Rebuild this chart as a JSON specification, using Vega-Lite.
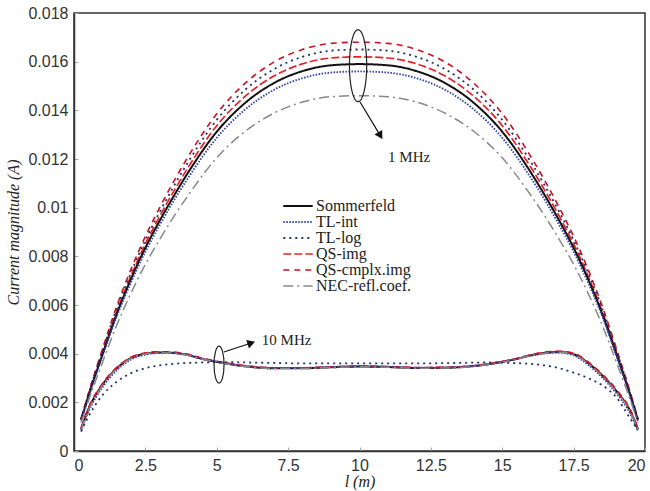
{
"$schema": "https://vega.github.io/schema/vega-lite/v6.json",
"width": 571, "height": 438,
"autosize": {"type": "none"},
"padding": {"left": 74, "top": 13, "right": 5, "bottom": 40},
"background": "white",
"config": {
  "view": {"stroke": "#333", "strokeWidth": 1.5},
  "axis": {"grid": false, "domainColor": "#333", "domainWidth": 1.5, "tickColor": "#aaa", "tickSize": -4, "labelPadding": 10, "labelFont": "Liberation Sans", "labelFontSize": 16, "labelColor": "#333", "titleFont": "Liberation Serif", "titleFontSize": 16, "titleFontWeight": "normal", "titleFontStyle": "italic", "titleColor": "#222"}
},
"datasets": {
"curves": [
{"s":"QS-cmplx.img","f":1,"x":0.25,"y":0.00134},{"s":"QS-cmplx.img","f":1,"x":0.5,"y":0.00235},{"s":"QS-cmplx.img","f":1,"x":1,"y":0.0042},{"s":"QS-cmplx.img","f":1,"x":1.5,"y":0.00596},{"s":"QS-cmplx.img","f":1,"x":2,"y":0.00748},{"s":"QS-cmplx.img","f":1,"x":2.5,"y":0.00882},{"s":"QS-cmplx.img","f":1,"x":3,"y":0.01},{"s":"QS-cmplx.img","f":1,"x":3.5,"y":0.01109},{"s":"QS-cmplx.img","f":1,"x":4,"y":0.0121},{"s":"QS-cmplx.img","f":1,"x":5,"y":0.01386},{"s":"QS-cmplx.img","f":1,"x":6,"y":0.01512},{"s":"QS-cmplx.img","f":1,"x":7,"y":0.01598},{"s":"QS-cmplx.img","f":1,"x":8,"y":0.0165},{"s":"QS-cmplx.img","f":1,"x":9,"y":0.01675},{"s":"QS-cmplx.img","f":1,"x":10,"y":0.0168},{"s":"QS-cmplx.img","f":1,"x":11,"y":0.01675},{"s":"QS-cmplx.img","f":1,"x":12,"y":0.0165},{"s":"QS-cmplx.img","f":1,"x":13,"y":0.01598},{"s":"QS-cmplx.img","f":1,"x":14,"y":0.01512},{"s":"QS-cmplx.img","f":1,"x":15,"y":0.01386},{"s":"QS-cmplx.img","f":1,"x":16,"y":0.0121},{"s":"QS-cmplx.img","f":1,"x":16.5,"y":0.01109},{"s":"QS-cmplx.img","f":1,"x":17,"y":0.01},{"s":"QS-cmplx.img","f":1,"x":17.5,"y":0.00882},{"s":"QS-cmplx.img","f":1,"x":18,"y":0.00748},{"s":"QS-cmplx.img","f":1,"x":18.5,"y":0.00596},{"s":"QS-cmplx.img","f":1,"x":19,"y":0.0042},{"s":"QS-cmplx.img","f":1,"x":19.5,"y":0.00235},{"s":"QS-cmplx.img","f":1,"x":19.75,"y":0.00134},
{"s":"TL-log","f":1,"x":0.25,"y":0.00132},{"s":"TL-log","f":1,"x":0.5,"y":0.00231},{"s":"TL-log","f":1,"x":1,"y":0.00413},{"s":"TL-log","f":1,"x":1.5,"y":0.00586},{"s":"TL-log","f":1,"x":2,"y":0.00734},{"s":"TL-log","f":1,"x":2.5,"y":0.00866},{"s":"TL-log","f":1,"x":3,"y":0.00982},{"s":"TL-log","f":1,"x":3.5,"y":0.01089},{"s":"TL-log","f":1,"x":4,"y":0.01188},{"s":"TL-log","f":1,"x":5,"y":0.01361},{"s":"TL-log","f":1,"x":6,"y":0.01485},{"s":"TL-log","f":1,"x":7,"y":0.01569},{"s":"TL-log","f":1,"x":8,"y":0.0162},{"s":"TL-log","f":1,"x":9,"y":0.01645},{"s":"TL-log","f":1,"x":10,"y":0.0165},{"s":"TL-log","f":1,"x":11,"y":0.01645},{"s":"TL-log","f":1,"x":12,"y":0.0162},{"s":"TL-log","f":1,"x":13,"y":0.01569},{"s":"TL-log","f":1,"x":14,"y":0.01485},{"s":"TL-log","f":1,"x":15,"y":0.01361},{"s":"TL-log","f":1,"x":16,"y":0.01188},{"s":"TL-log","f":1,"x":16.5,"y":0.01089},{"s":"TL-log","f":1,"x":17,"y":0.00982},{"s":"TL-log","f":1,"x":17.5,"y":0.00866},{"s":"TL-log","f":1,"x":18,"y":0.00734},{"s":"TL-log","f":1,"x":18.5,"y":0.00586},{"s":"TL-log","f":1,"x":19,"y":0.00413},{"s":"TL-log","f":1,"x":19.5,"y":0.00231},{"s":"TL-log","f":1,"x":19.75,"y":0.00132},
{"s":"QS-img","f":1,"x":0.25,"y":0.0013},{"s":"QS-img","f":1,"x":0.5,"y":0.00227},{"s":"QS-img","f":1,"x":1,"y":0.00405},{"s":"QS-img","f":1,"x":1.5,"y":0.00575},{"s":"QS-img","f":1,"x":2,"y":0.00721},{"s":"QS-img","f":1,"x":2.5,"y":0.00851},{"s":"QS-img","f":1,"x":3,"y":0.00964},{"s":"QS-img","f":1,"x":3.5,"y":0.01069},{"s":"QS-img","f":1,"x":4,"y":0.01166},{"s":"QS-img","f":1,"x":5,"y":0.01337},{"s":"QS-img","f":1,"x":6,"y":0.01458},{"s":"QS-img","f":1,"x":7,"y":0.01541},{"s":"QS-img","f":1,"x":8,"y":0.01591},{"s":"QS-img","f":1,"x":9,"y":0.01615},{"s":"QS-img","f":1,"x":10,"y":0.0162},{"s":"QS-img","f":1,"x":11,"y":0.01615},{"s":"QS-img","f":1,"x":12,"y":0.01591},{"s":"QS-img","f":1,"x":13,"y":0.01541},{"s":"QS-img","f":1,"x":14,"y":0.01458},{"s":"QS-img","f":1,"x":15,"y":0.01337},{"s":"QS-img","f":1,"x":16,"y":0.01166},{"s":"QS-img","f":1,"x":16.5,"y":0.01069},{"s":"QS-img","f":1,"x":17,"y":0.00964},{"s":"QS-img","f":1,"x":17.5,"y":0.00851},{"s":"QS-img","f":1,"x":18,"y":0.00721},{"s":"QS-img","f":1,"x":18.5,"y":0.00575},{"s":"QS-img","f":1,"x":19,"y":0.00405},{"s":"QS-img","f":1,"x":19.5,"y":0.00227},{"s":"QS-img","f":1,"x":19.75,"y":0.0013},
{"s":"Sommerfeld","f":1,"x":0.25,"y":0.00127},{"s":"Sommerfeld","f":1,"x":0.5,"y":0.00223},{"s":"Sommerfeld","f":1,"x":1,"y":0.00398},{"s":"Sommerfeld","f":1,"x":1.5,"y":0.00564},{"s":"Sommerfeld","f":1,"x":2,"y":0.00708},{"s":"Sommerfeld","f":1,"x":2.5,"y":0.00835},{"s":"Sommerfeld","f":1,"x":3,"y":0.00946},{"s":"Sommerfeld","f":1,"x":3.5,"y":0.01049},{"s":"Sommerfeld","f":1,"x":4,"y":0.01145},{"s":"Sommerfeld","f":1,"x":5,"y":0.01312},{"s":"Sommerfeld","f":1,"x":6,"y":0.01431},{"s":"Sommerfeld","f":1,"x":7,"y":0.01512},{"s":"Sommerfeld","f":1,"x":8,"y":0.01561},{"s":"Sommerfeld","f":1,"x":9,"y":0.01585},{"s":"Sommerfeld","f":1,"x":10,"y":0.0159},{"s":"Sommerfeld","f":1,"x":11,"y":0.01585},{"s":"Sommerfeld","f":1,"x":12,"y":0.01561},{"s":"Sommerfeld","f":1,"x":13,"y":0.01512},{"s":"Sommerfeld","f":1,"x":14,"y":0.01431},{"s":"Sommerfeld","f":1,"x":15,"y":0.01312},{"s":"Sommerfeld","f":1,"x":16,"y":0.01145},{"s":"Sommerfeld","f":1,"x":16.5,"y":0.01049},{"s":"Sommerfeld","f":1,"x":17,"y":0.00946},{"s":"Sommerfeld","f":1,"x":17.5,"y":0.00835},{"s":"Sommerfeld","f":1,"x":18,"y":0.00708},{"s":"Sommerfeld","f":1,"x":18.5,"y":0.00564},{"s":"Sommerfeld","f":1,"x":19,"y":0.00398},{"s":"Sommerfeld","f":1,"x":19.5,"y":0.00223},{"s":"Sommerfeld","f":1,"x":19.75,"y":0.00127},
{"s":"TL-int","f":1,"x":0.25,"y":0.00125},{"s":"TL-int","f":1,"x":0.5,"y":0.00218},{"s":"TL-int","f":1,"x":1,"y":0.0039},{"s":"TL-int","f":1,"x":1.5,"y":0.00554},{"s":"TL-int","f":1,"x":2,"y":0.00694},{"s":"TL-int","f":1,"x":2.5,"y":0.00819},{"s":"TL-int","f":1,"x":3,"y":0.00928},{"s":"TL-int","f":1,"x":3.5,"y":0.0103},{"s":"TL-int","f":1,"x":4,"y":0.01123},{"s":"TL-int","f":1,"x":5,"y":0.01287},{"s":"TL-int","f":1,"x":6,"y":0.01404},{"s":"TL-int","f":1,"x":7,"y":0.01484},{"s":"TL-int","f":1,"x":8,"y":0.01532},{"s":"TL-int","f":1,"x":9,"y":0.01555},{"s":"TL-int","f":1,"x":10,"y":0.0156},{"s":"TL-int","f":1,"x":11,"y":0.01555},{"s":"TL-int","f":1,"x":12,"y":0.01532},{"s":"TL-int","f":1,"x":13,"y":0.01484},{"s":"TL-int","f":1,"x":14,"y":0.01404},{"s":"TL-int","f":1,"x":15,"y":0.01287},{"s":"TL-int","f":1,"x":16,"y":0.01123},{"s":"TL-int","f":1,"x":16.5,"y":0.0103},{"s":"TL-int","f":1,"x":17,"y":0.00928},{"s":"TL-int","f":1,"x":17.5,"y":0.00819},{"s":"TL-int","f":1,"x":18,"y":0.00694},{"s":"TL-int","f":1,"x":18.5,"y":0.00554},{"s":"TL-int","f":1,"x":19,"y":0.0039},{"s":"TL-int","f":1,"x":19.5,"y":0.00218},{"s":"TL-int","f":1,"x":19.75,"y":0.00125},
{"s":"NEC-refl.coef.","f":1,"x":0.25,"y":0.00117},{"s":"NEC-refl.coef.","f":1,"x":0.5,"y":0.00204},{"s":"NEC-refl.coef.","f":1,"x":1,"y":0.00365},{"s":"NEC-refl.coef.","f":1,"x":1.5,"y":0.00518},{"s":"NEC-refl.coef.","f":1,"x":2,"y":0.0065},{"s":"NEC-refl.coef.","f":1,"x":2.5,"y":0.00767},{"s":"NEC-refl.coef.","f":1,"x":3,"y":0.00869},{"s":"NEC-refl.coef.","f":1,"x":3.5,"y":0.00964},{"s":"NEC-refl.coef.","f":1,"x":4,"y":0.01051},{"s":"NEC-refl.coef.","f":1,"x":5,"y":0.01205},{"s":"NEC-refl.coef.","f":1,"x":6,"y":0.01314},{"s":"NEC-refl.coef.","f":1,"x":7,"y":0.01388},{"s":"NEC-refl.coef.","f":1,"x":8,"y":0.01434},{"s":"NEC-refl.coef.","f":1,"x":9,"y":0.01456},{"s":"NEC-refl.coef.","f":1,"x":10,"y":0.0146},{"s":"NEC-refl.coef.","f":1,"x":11,"y":0.01456},{"s":"NEC-refl.coef.","f":1,"x":12,"y":0.01434},{"s":"NEC-refl.coef.","f":1,"x":13,"y":0.01388},{"s":"NEC-refl.coef.","f":1,"x":14,"y":0.01314},{"s":"NEC-refl.coef.","f":1,"x":15,"y":0.01205},{"s":"NEC-refl.coef.","f":1,"x":16,"y":0.01051},{"s":"NEC-refl.coef.","f":1,"x":16.5,"y":0.00964},{"s":"NEC-refl.coef.","f":1,"x":17,"y":0.00869},{"s":"NEC-refl.coef.","f":1,"x":17.5,"y":0.00767},{"s":"NEC-refl.coef.","f":1,"x":18,"y":0.0065},{"s":"NEC-refl.coef.","f":1,"x":18.5,"y":0.00518},{"s":"NEC-refl.coef.","f":1,"x":19,"y":0.00365},{"s":"NEC-refl.coef.","f":1,"x":19.5,"y":0.00204},{"s":"NEC-refl.coef.","f":1,"x":19.75,"y":0.00117},
{"s":"Sommerfeld","f":10,"x":0.25,"y":0.0009},{"s":"Sommerfeld","f":10,"x":0.5,"y":0.0017},{"s":"Sommerfeld","f":10,"x":1,"y":0.00273},{"s":"Sommerfeld","f":10,"x":1.5,"y":0.0034},{"s":"Sommerfeld","f":10,"x":2,"y":0.00382},{"s":"Sommerfeld","f":10,"x":2.5,"y":0.004},{"s":"Sommerfeld","f":10,"x":3,"y":0.00405},{"s":"Sommerfeld","f":10,"x":3.5,"y":0.00403},{"s":"Sommerfeld","f":10,"x":4,"y":0.00394},{"s":"Sommerfeld","f":10,"x":4.5,"y":0.00378},{"s":"Sommerfeld","f":10,"x":5,"y":0.00366},{"s":"Sommerfeld","f":10,"x":5.5,"y":0.00356},{"s":"Sommerfeld","f":10,"x":6,"y":0.00348},{"s":"Sommerfeld","f":10,"x":7,"y":0.0034},{"s":"Sommerfeld","f":10,"x":8,"y":0.0034},{"s":"Sommerfeld","f":10,"x":9,"y":0.00344},{"s":"Sommerfeld","f":10,"x":10,"y":0.00347},{"s":"Sommerfeld","f":10,"x":11,"y":0.00345},{"s":"Sommerfeld","f":10,"x":12,"y":0.00341},{"s":"Sommerfeld","f":10,"x":13,"y":0.00342},{"s":"Sommerfeld","f":10,"x":14,"y":0.00349},{"s":"Sommerfeld","f":10,"x":14.5,"y":0.00356},{"s":"Sommerfeld","f":10,"x":15,"y":0.00366},{"s":"Sommerfeld","f":10,"x":15.5,"y":0.00378},{"s":"Sommerfeld","f":10,"x":16,"y":0.00393},{"s":"Sommerfeld","f":10,"x":16.5,"y":0.00403},{"s":"Sommerfeld","f":10,"x":17,"y":0.00407},{"s":"Sommerfeld","f":10,"x":17.5,"y":0.00398},{"s":"Sommerfeld","f":10,"x":18,"y":0.00362},{"s":"Sommerfeld","f":10,"x":18.5,"y":0.0031},{"s":"Sommerfeld","f":10,"x":19,"y":0.00246},{"s":"Sommerfeld","f":10,"x":19.5,"y":0.0016},{"s":"Sommerfeld","f":10,"x":19.75,"y":0.0009},
{"s":"QS-img","f":10,"x":0.25,"y":0.00092},{"s":"QS-img","f":10,"x":0.5,"y":0.00172},{"s":"QS-img","f":10,"x":1,"y":0.00275},{"s":"QS-img","f":10,"x":1.5,"y":0.00342},{"s":"QS-img","f":10,"x":2,"y":0.00384},{"s":"QS-img","f":10,"x":2.5,"y":0.00402},{"s":"QS-img","f":10,"x":3,"y":0.00407},{"s":"QS-img","f":10,"x":3.5,"y":0.00405},{"s":"QS-img","f":10,"x":4,"y":0.00396},{"s":"QS-img","f":10,"x":4.5,"y":0.0038},{"s":"QS-img","f":10,"x":5,"y":0.00368},{"s":"QS-img","f":10,"x":5.5,"y":0.00358},{"s":"QS-img","f":10,"x":6,"y":0.0035},{"s":"QS-img","f":10,"x":7,"y":0.00342},{"s":"QS-img","f":10,"x":8,"y":0.00342},{"s":"QS-img","f":10,"x":9,"y":0.00346},{"s":"QS-img","f":10,"x":10,"y":0.00349},{"s":"QS-img","f":10,"x":11,"y":0.00347},{"s":"QS-img","f":10,"x":12,"y":0.00343},{"s":"QS-img","f":10,"x":13,"y":0.00344},{"s":"QS-img","f":10,"x":14,"y":0.00351},{"s":"QS-img","f":10,"x":14.5,"y":0.00358},{"s":"QS-img","f":10,"x":15,"y":0.00368},{"s":"QS-img","f":10,"x":15.5,"y":0.0038},{"s":"QS-img","f":10,"x":16,"y":0.00395},{"s":"QS-img","f":10,"x":16.5,"y":0.00405},{"s":"QS-img","f":10,"x":17,"y":0.00409},{"s":"QS-img","f":10,"x":17.5,"y":0.004},{"s":"QS-img","f":10,"x":18,"y":0.00364},{"s":"QS-img","f":10,"x":18.5,"y":0.00312},{"s":"QS-img","f":10,"x":19,"y":0.00248},{"s":"QS-img","f":10,"x":19.5,"y":0.00162},{"s":"QS-img","f":10,"x":19.75,"y":0.00092},
{"s":"QS-cmplx.img","f":10,"x":0.25,"y":0.00095},{"s":"QS-cmplx.img","f":10,"x":0.5,"y":0.00176},{"s":"QS-cmplx.img","f":10,"x":1,"y":0.00278},{"s":"QS-cmplx.img","f":10,"x":1.5,"y":0.00344},{"s":"QS-cmplx.img","f":10,"x":2,"y":0.00385},{"s":"QS-cmplx.img","f":10,"x":2.5,"y":0.00403},{"s":"QS-cmplx.img","f":10,"x":3,"y":0.00408},{"s":"QS-cmplx.img","f":10,"x":3.5,"y":0.00406},{"s":"QS-cmplx.img","f":10,"x":4,"y":0.00397},{"s":"QS-cmplx.img","f":10,"x":4.5,"y":0.00381},{"s":"QS-cmplx.img","f":10,"x":5,"y":0.00369},{"s":"QS-cmplx.img","f":10,"x":5.5,"y":0.00358},{"s":"QS-cmplx.img","f":10,"x":6,"y":0.0035},{"s":"QS-cmplx.img","f":10,"x":7,"y":0.00342},{"s":"QS-cmplx.img","f":10,"x":8,"y":0.00341},{"s":"QS-cmplx.img","f":10,"x":9,"y":0.00345},{"s":"QS-cmplx.img","f":10,"x":10,"y":0.00348},{"s":"QS-cmplx.img","f":10,"x":11,"y":0.00346},{"s":"QS-cmplx.img","f":10,"x":12,"y":0.00342},{"s":"QS-cmplx.img","f":10,"x":13,"y":0.00343},{"s":"QS-cmplx.img","f":10,"x":14,"y":0.0035},{"s":"QS-cmplx.img","f":10,"x":14.5,"y":0.00357},{"s":"QS-cmplx.img","f":10,"x":15,"y":0.00367},{"s":"QS-cmplx.img","f":10,"x":15.5,"y":0.00379},{"s":"QS-cmplx.img","f":10,"x":16,"y":0.00395},{"s":"QS-cmplx.img","f":10,"x":16.5,"y":0.00406},{"s":"QS-cmplx.img","f":10,"x":17,"y":0.0041},{"s":"QS-cmplx.img","f":10,"x":17.5,"y":0.00402},{"s":"QS-cmplx.img","f":10,"x":18,"y":0.00367},{"s":"QS-cmplx.img","f":10,"x":18.5,"y":0.00316},{"s":"QS-cmplx.img","f":10,"x":19,"y":0.00252},{"s":"QS-cmplx.img","f":10,"x":19.5,"y":0.00166},{"s":"QS-cmplx.img","f":10,"x":19.75,"y":0.00095},
{"s":"TL-int","f":10,"x":0.25,"y":0.00085},{"s":"TL-int","f":10,"x":0.5,"y":0.0016},{"s":"TL-int","f":10,"x":1,"y":0.00262},{"s":"TL-int","f":10,"x":1.5,"y":0.00332},{"s":"TL-int","f":10,"x":2,"y":0.00376},{"s":"TL-int","f":10,"x":2.5,"y":0.00396},{"s":"TL-int","f":10,"x":3,"y":0.00403},{"s":"TL-int","f":10,"x":3.5,"y":0.00402},{"s":"TL-int","f":10,"x":4,"y":0.00394},{"s":"TL-int","f":10,"x":4.5,"y":0.00379},{"s":"TL-int","f":10,"x":5,"y":0.00367},{"s":"TL-int","f":10,"x":5.5,"y":0.00357},{"s":"TL-int","f":10,"x":6,"y":0.00349},{"s":"TL-int","f":10,"x":7,"y":0.00341},{"s":"TL-int","f":10,"x":8,"y":0.00341},{"s":"TL-int","f":10,"x":9,"y":0.00345},{"s":"TL-int","f":10,"x":10,"y":0.00348},{"s":"TL-int","f":10,"x":11,"y":0.00346},{"s":"TL-int","f":10,"x":12,"y":0.00342},{"s":"TL-int","f":10,"x":13,"y":0.00343},{"s":"TL-int","f":10,"x":14,"y":0.0035},{"s":"TL-int","f":10,"x":14.5,"y":0.00357},{"s":"TL-int","f":10,"x":15,"y":0.00367},{"s":"TL-int","f":10,"x":15.5,"y":0.00379},{"s":"TL-int","f":10,"x":16,"y":0.00392},{"s":"TL-int","f":10,"x":16.5,"y":0.00401},{"s":"TL-int","f":10,"x":17,"y":0.00404},{"s":"TL-int","f":10,"x":17.5,"y":0.00393},{"s":"TL-int","f":10,"x":18,"y":0.00355},{"s":"TL-int","f":10,"x":18.5,"y":0.00302},{"s":"TL-int","f":10,"x":19,"y":0.00236},{"s":"TL-int","f":10,"x":19.5,"y":0.0015},{"s":"TL-int","f":10,"x":19.75,"y":0.00082},
{"s":"NEC-refl.coef.","f":10,"x":0.25,"y":0.00088},{"s":"NEC-refl.coef.","f":10,"x":0.5,"y":0.00166},{"s":"NEC-refl.coef.","f":10,"x":1,"y":0.0027},{"s":"NEC-refl.coef.","f":10,"x":1.5,"y":0.00338},{"s":"NEC-refl.coef.","f":10,"x":2,"y":0.0038},{"s":"NEC-refl.coef.","f":10,"x":2.5,"y":0.00399},{"s":"NEC-refl.coef.","f":10,"x":3,"y":0.00404},{"s":"NEC-refl.coef.","f":10,"x":3.5,"y":0.00402},{"s":"NEC-refl.coef.","f":10,"x":4,"y":0.00393},{"s":"NEC-refl.coef.","f":10,"x":4.5,"y":0.00377},{"s":"NEC-refl.coef.","f":10,"x":5,"y":0.00365},{"s":"NEC-refl.coef.","f":10,"x":5.5,"y":0.00355},{"s":"NEC-refl.coef.","f":10,"x":6,"y":0.00347},{"s":"NEC-refl.coef.","f":10,"x":7,"y":0.00339},{"s":"NEC-refl.coef.","f":10,"x":8,"y":0.00339},{"s":"NEC-refl.coef.","f":10,"x":9,"y":0.00343},{"s":"NEC-refl.coef.","f":10,"x":10,"y":0.00346},{"s":"NEC-refl.coef.","f":10,"x":11,"y":0.00344},{"s":"NEC-refl.coef.","f":10,"x":12,"y":0.0034},{"s":"NEC-refl.coef.","f":10,"x":13,"y":0.00341},{"s":"NEC-refl.coef.","f":10,"x":14,"y":0.00348},{"s":"NEC-refl.coef.","f":10,"x":14.5,"y":0.00355},{"s":"NEC-refl.coef.","f":10,"x":15,"y":0.00365},{"s":"NEC-refl.coef.","f":10,"x":15.5,"y":0.00377},{"s":"NEC-refl.coef.","f":10,"x":16,"y":0.00392},{"s":"NEC-refl.coef.","f":10,"x":16.5,"y":0.00402},{"s":"NEC-refl.coef.","f":10,"x":17,"y":0.00406},{"s":"NEC-refl.coef.","f":10,"x":17.5,"y":0.00396},{"s":"NEC-refl.coef.","f":10,"x":18,"y":0.0036},{"s":"NEC-refl.coef.","f":10,"x":18.5,"y":0.00307},{"s":"NEC-refl.coef.","f":10,"x":19,"y":0.00243},{"s":"NEC-refl.coef.","f":10,"x":19.5,"y":0.00157},{"s":"NEC-refl.coef.","f":10,"x":19.75,"y":0.00087},
{"s":"TL-log","f":10,"x":0.25,"y":0.0008},{"s":"TL-log","f":10,"x":0.5,"y":0.0014},{"s":"TL-log","f":10,"x":1,"y":0.0023},{"s":"TL-log","f":10,"x":1.5,"y":0.00285},{"s":"TL-log","f":10,"x":2,"y":0.0032},{"s":"TL-log","f":10,"x":2.5,"y":0.0034},{"s":"TL-log","f":10,"x":3,"y":0.00352},{"s":"TL-log","f":10,"x":3.5,"y":0.00358},{"s":"TL-log","f":10,"x":4,"y":0.00362},{"s":"TL-log","f":10,"x":4.5,"y":0.00364},{"s":"TL-log","f":10,"x":5,"y":0.00365},{"s":"TL-log","f":10,"x":5.5,"y":0.00365},{"s":"TL-log","f":10,"x":6,"y":0.00364},{"s":"TL-log","f":10,"x":7,"y":0.00362},{"s":"TL-log","f":10,"x":8,"y":0.0036},{"s":"TL-log","f":10,"x":9,"y":0.0036},{"s":"TL-log","f":10,"x":10,"y":0.0036},{"s":"TL-log","f":10,"x":11,"y":0.0036},{"s":"TL-log","f":10,"x":12,"y":0.0036},{"s":"TL-log","f":10,"x":13,"y":0.00361},{"s":"TL-log","f":10,"x":14,"y":0.00363},{"s":"TL-log","f":10,"x":14.5,"y":0.00364},{"s":"TL-log","f":10,"x":15,"y":0.00363},{"s":"TL-log","f":10,"x":15.5,"y":0.00361},{"s":"TL-log","f":10,"x":16,"y":0.00358},{"s":"TL-log","f":10,"x":16.5,"y":0.00352},{"s":"TL-log","f":10,"x":17,"y":0.0034},{"s":"TL-log","f":10,"x":17.5,"y":0.00322},{"s":"TL-log","f":10,"x":18,"y":0.003},{"s":"TL-log","f":10,"x":18.5,"y":0.0027},{"s":"TL-log","f":10,"x":19,"y":0.0022},{"s":"TL-log","f":10,"x":19.5,"y":0.0013},{"s":"TL-log","f":10,"x":19.75,"y":0.00085}
],
"arrows": [
{"a":"1","x":10.02,"y":0.01434},{"a":"1","x":10.73,"y":0.01296},
{"a":"10","x":5.25,"y":0.00407},{"a":"10","x":6.21,"y":0.00444}
]
},
"layer": [
{
  "data": {"name": "curves"},
  "mark": {"type": "line", "interpolate": "monotone"},
  "encoding": {
    "x": {"field": "x", "type": "quantitative", "scale": {"domain": [0, 20], "nice": false},
      "axis": {"values": [0, 2.5, 5, 7.5, 10, 12.5, 15, 17.5, 20], "labelExpr": "'' + datum.value", "title": "l (m)", "titlePadding": 0}},
    "y": {"field": "y", "type": "quantitative", "scale": {"domain": [0, 0.018], "nice": false},
      "axis": {"values": [0, 0.002, 0.004, 0.006, 0.008, 0.01, 0.012, 0.014, 0.016, 0.018], "labelExpr": "'' + datum.value", "title": "Current magnitude (A)", "titlePadding": 6}},
    "detail": {"field": "f", "type": "nominal"},
    "color": {"field": "s", "type": "nominal",
      "scale": {"domain": ["Sommerfeld", "TL-int", "TL-log", "QS-img", "QS-cmplx.img", "NEC-refl.coef."],
                "range": ["#111111", "#3344aa", "#223366", "#e8202a", "#cc1122", "#888888"]},
      "legend": {"title": null, "orient": "none", "legendX": 216, "legendY": 185, "symbolType": "M-2.1,0H2.1", "symbolSize": 196, "symbolStrokeWidth": 2, "labelFont": "Liberation Serif", "labelFontSize": 16, "labelColor": "#222", "rowPadding": 0, "labelOffset": 10, "padding": 0}},
    "strokeDash": {"field": "s", "type": "nominal",
      "scale": {"domain": ["Sommerfeld", "TL-int", "TL-log", "QS-img", "QS-cmplx.img", "NEC-refl.coef."],
                "range": [[1, 0], [1.5, 1.5], [2, 4], [8, 3], [6, 5], [10, 4, 2, 4]]},
      "legend": {"title": null, "orient": "none", "legendX": 216, "legendY": 185, "symbolType": "M-2.1,0H2.1", "symbolSize": 196, "symbolStrokeWidth": 2, "labelFont": "Liberation Serif", "labelFontSize": 16, "labelColor": "#222", "rowPadding": 0, "labelOffset": 10, "padding": 0}},
    "strokeWidth": {"field": "s", "type": "nominal",
      "scale": {"domain": ["Sommerfeld", "TL-int", "TL-log", "QS-img", "QS-cmplx.img", "NEC-refl.coef."],
                "range": [2, 1.5, 2, 1.5, 2.5, 1.5]}, "legend": null}
  }
},
{
  "data": {"values": [{"x": 9.95, "y": 0.01584}]},
  "mark": {"type": "point", "shape": "M0,-1A0.24,1,0,1,1,0,1A0.24,1,0,1,1,0,-1Z", "size": 5184, "filled": false, "stroke": "#222", "strokeWidth": 1.2, "opacity": 1},
  "encoding": {"x": {"field": "x", "type": "quantitative"}, "y": {"field": "y", "type": "quantitative"}}
},
{
  "data": {"values": [{"x": 5.08, "y": 0.00355}]},
  "mark": {"type": "point", "shape": "M0,-1A0.27,1,0,1,1,0,1A0.27,1,0,1,1,0,-1Z", "size": 1369, "filled": false, "stroke": "#222", "strokeWidth": 1.2, "opacity": 1},
  "encoding": {"x": {"field": "x", "type": "quantitative"}, "y": {"field": "y", "type": "quantitative"}}
},
{
  "data": {"name": "arrows"},
  "mark": {"type": "line", "color": "#111", "strokeWidth": 1.2},
  "encoding": {"x": {"field": "x", "type": "quantitative"}, "y": {"field": "y", "type": "quantitative"}, "detail": {"field": "a", "type": "nominal"}}
},
{
  "data": {"values": [{"x": 10.73, "y": 0.01296}]},
  "mark": {"type": "point", "shape": "triangle-right", "size": 80, "filled": true, "color": "#111", "angle": 59, "opacity": 1},
  "encoding": {"x": {"field": "x", "type": "quantitative"}, "y": {"field": "y", "type": "quantitative"}}
},
{
  "data": {"values": [{"x": 6.21, "y": 0.00444}]},
  "mark": {"type": "point", "shape": "triangle-right", "size": 80, "filled": true, "color": "#111", "angle": -18, "opacity": 1},
  "encoding": {"x": {"field": "x", "type": "quantitative"}, "y": {"field": "y", "type": "quantitative"}}
},
{
  "data": {"values": [{"x": 11.0, "y": 0.01208, "t": "1 MHz"}, {"x": 6.58, "y": 0.00458, "t": "10 MHz"}]},
  "mark": {"type": "text", "align": "left", "baseline": "middle", "font": "Liberation Serif", "fontSize": 15, "color": "#222"},
  "encoding": {"x": {"field": "x", "type": "quantitative"}, "y": {"field": "y", "type": "quantitative"}, "text": {"field": "t"}}
}
]
}
